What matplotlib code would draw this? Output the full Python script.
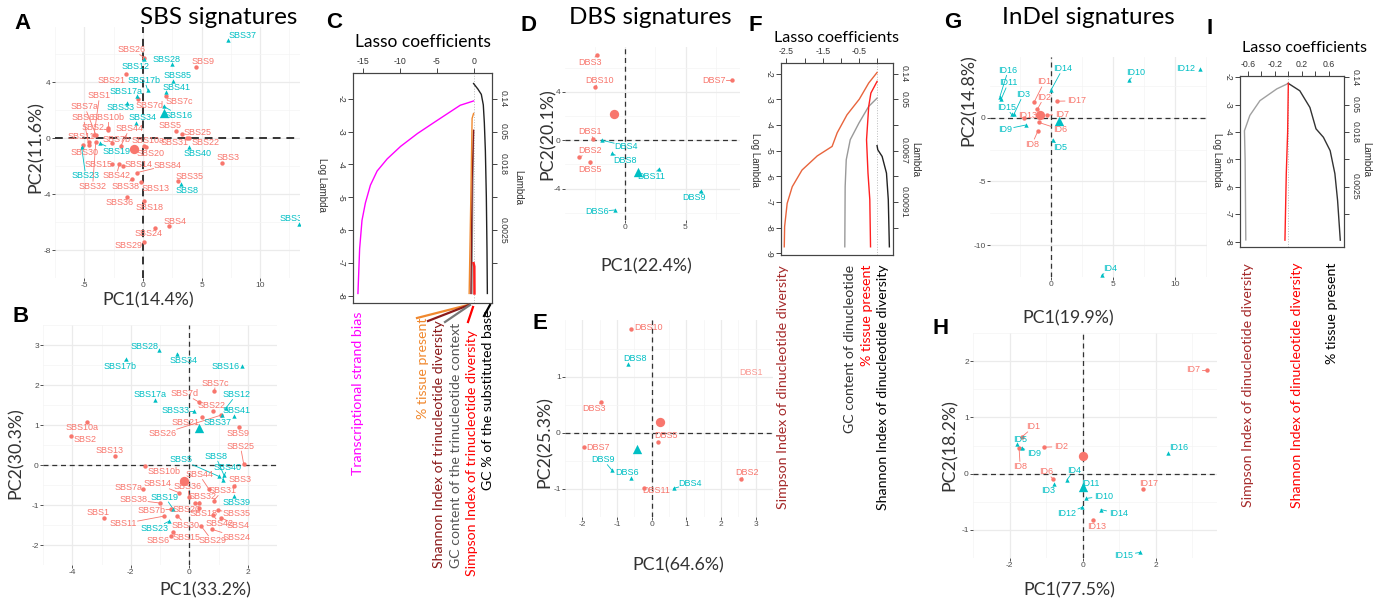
import matplotlib
matplotlib.use('Agg')
import matplotlib.pyplot as plt
from matplotlib.lines import Line2D

plt.rcParams['axes.unicode_minus'] = False

W, H = 1386, 605
RED = '#F8766D'
CYAN = '#00BFC4'

# ---------------- A: SBS signatures, PCA 1 ----------------
a_names_r = ['SBS26', 'SBS9', 'SBS21', 'SBS1', 'SBS7a', 'SBS7c', 'SBS7d', 'SBS6', 'SBS10b', 'SBS2',
             'SBS44', 'SBS5', 'SBS25', 'SBS11', 'SBS7b', 'SBS10a', 'SBS31', 'SBS22', 'SBS30', 'SBS20',
             'SBS3', 'SBS15', 'SBS14', 'SBS84', 'SBS42', 'SBS35', 'SBS32', 'SBS38', 'SBS13', 'SBS36',
             'SBS18', 'SBS4', 'SBS24', 'SBS29']
a_x_r = [0.13, 4.56, -1.42, -4.16, -4.02, 1.93, -0.43, -4.61, -2.95, -2.95,
         -1.88, 2.82, 3.30, -4.56, -2.68, 0.13, 3.75, 3.89, -5.09, 0.27,
         6.76, -2.68, -1.74, -0.54, -2.01, 3.00, -4.02, -0.94, -0.19, -1.39,
         0.08, 2.25, 0.99, 0.08]
a_y_r = [5.76, 5.10, 4.56, 0.26, 0.26, 2.99, 2.77, -0.49, 0.72, 0.58,
         -0.55, 0.51, 0.32, -0.28, -0.38, -0.55, 0.04, 0.00, -0.49, -0.64,
         -1.77, -1.88, -1.98, -2.47, -1.88, -3.09, -0.28, -2.90, -3.16, -4.22,
         -4.48, -6.31, -6.40, -7.42]
a_lx_r = [-0.94, 5.15, -2.68, -3.70, -4.96, 3.08, 0.54, -5.09, -2.95, -4.29,
          -1.15, 2.28, 4.69, -5.23, -2.28, 0.40, 2.68, 5.31, -4.96, 0.67,
          7.29, -3.81, -0.40, 2.14, -2.28, 3.97, -4.29, -1.47, 1.07, -1.96,
          0.59, 2.76, 0.48, -1.21]
a_ly_r = [6.33, 5.48, 4.14, 3.03, 2.24, 2.60, 2.35, 1.49, 1.49, 0.79,
          0.68, 0.90, 0.43, 0.15, -0.06, -0.17, -0.32, -0.32, -1.02, -1.09,
          -1.39, -1.88, -1.88, -1.92, -2.69, -2.73, -3.43, -3.43, -3.58, -4.61,
          -4.93, -5.93, -6.82, -7.70]
a_names_c = ['SBS37', 'SBS12', 'SBS28', 'SBS17b', 'SBS85', 'SBS41', 'SBS17a', 'SBS33', 'SBS16', 'SBS34',
             'SBS19', 'SBS23', 'SBS40', 'SBS8', 'SBS39']
a_x_c = [7.29, 0.13, 2.47, 0.40, 2.55, 1.98, -0.48, -1.39, 1.77, -0.59, -3.62, -5.23, 3.97, 3.22, 13.3]
a_y_c = [7.04, 5.63, 5.27, 3.45, 4.09, 3.28, 3.03, 2.54, 2.28, 1.11, -0.38, -0.66, -0.66, -3.30, -6.15]
a_lx_c = [8.53, -0.59, 2.01, 0.13, 2.95, 2.90, -1.47, -1.90, 3.08, 0.00, -2.28, -4.88, 4.64, 3.75, 12.84]
a_ly_c = [7.33, 5.16, 5.63, 4.14, 4.46, 3.62, 3.35, 2.18, 1.64, 1.49, -0.92, -2.69, -1.09, -3.73, -5.78]
a_cent = [(-0.80, -0.77), (1.77, 1.79)]

# ---------------- B: SBS signatures, PCA 2 ----------------
b_names_r = ['SBS7c', 'SBS7d', 'SBS22', 'SBS21', 'SBS26', 'SBS10a', 'SBS2', 'SBS9', 'SBS13', 'SBS25',
             'SBS10b', 'SBS3', 'SBS44', 'SBS7a', 'SBS14', 'SBS36', 'SBS31', 'SBS32', 'SBS38', 'SBS20',
             'SBS18', 'SBS35', 'SBS1', 'SBS7b', 'SBS11', 'SBS30', 'SBS42', 'SBS4', 'SBS29', 'SBS24',
             'SBS6', 'SBS15']
b_x_r = [0.86, 0.34, 0.80, 0.42, 1.10, -3.49, -4.05, 1.70, -2.53, 1.86,
         -1.50, 1.54, 0.66, -1.58, -0.36, 0.00, 0.84, 0.34, -1.01, 0.20,
         0.34, 0.98, -2.92, -0.63, -0.88, -0.41, 0.80, 1.09, 0.41, 0.78,
         -0.62, -0.56]
b_y_r = [1.84, 1.57, 1.35, 1.21, 1.25, 1.07, 0.72, 0.94, 0.22, 0.03,
         -0.02, -0.53, -0.59, -0.61, -0.69, -0.80, -0.89, -0.95, -0.95, -0.95,
         -1.07, -1.13, -1.32, -1.11, -1.28, -1.27, -1.24, -1.32, -1.53, -1.61,
         -1.78, -1.67]
b_lx_r = [0.90, -0.16, 0.77, -0.11, -0.92, -3.67, -3.55, 1.67, -2.71, 1.75,
          -0.86, 1.75, 0.34, -2.08, -1.10, -0.05, 1.13, 0.45, -1.90, -0.10,
          0.50, 1.61, -3.12, -1.29, -2.26, -0.11, 1.04, 1.67, 0.78, 1.61,
          -1.07, -0.09]
b_ly_r = [2.05, 1.78, 1.50, 1.06, 0.78, 0.94, 0.65, 0.78, 0.36, 0.47,
          -0.16, -0.37, -0.24, -0.56, -0.47, -0.53, -0.64, -0.79, -0.87, -1.10,
          -1.20, -1.22, -1.19, -1.13, -1.47, -1.50, -1.47, -1.52, -1.89, -1.80,
          -1.89, -1.81]
b_names_c = ['SBS28', 'SBS34', 'SBS17b', 'SBS16', 'SBS12', 'SBS17a', 'SBS33', 'SBS41', 'SBS37', 'SBS8',
             'SBS5', 'SBS40', 'SBS39', 'SBS19', 'SBS23']
b_x_c = [-1.02, -0.41, -2.15, 1.81, 1.25, -1.16, 0.17, 1.54, 1.13, 1.19, 1.00, 1.14, 1.54, -0.54, -0.70]
b_y_c = [2.87, 2.78, 2.64, 2.48, 1.42, 1.63, 1.36, 1.22, 1.24, -0.26, -0.28, -0.37, -0.78, -1.11, -1.41]
b_lx_c = [-1.52, -0.21, -2.35, 1.25, 1.61, -1.34, -0.47, 1.61, 0.97, 0.90, -0.27, 1.31, 1.61, -0.83, -1.19]
b_ly_c = [2.96, 2.62, 2.47, 2.47, 1.76, 1.76, 1.36, 1.36, 1.07, 0.22, 0.13, -0.06, -0.93, -0.80, -1.59]
b_cent = [(-0.18, -0.41), (0.34, 0.93)]

# ---------------- D: DBS signatures, PCA 1 ----------------
d_names_r = ['DBS3', 'DBS10', 'DBS7', 'DBS1', 'DBS2', 'DBS5']
d_x_r = [-2.28, -2.45, 8.85, -2.61, -3.76, -2.88]
d_y_r = [7.06, 4.40, 4.95, 0.08, -1.43, -1.84]
d_lx_r = [-2.88, -2.06, 7.34, -2.88, -2.88, -2.88]
d_ly_r = [6.46, 4.95, 4.95, 0.69, -0.88, -2.42]
d_names_c = ['DBS4', 'DBS8', 'DBS11', 'DBS9', 'DBS6']
d_x_c = [-1.92, -1.07, 2.83, 6.32, -0.80]
d_y_c = [0.00, -1.10, -2.36, -4.18, -5.77]
d_lx_c = [0.08, 0.00, 2.20, 5.69, -2.28]
d_ly_c = [-0.49, -1.65, -2.97, -4.73, -5.91]
d_cent = [(-0.91, 2.20), (1.04, -2.61)]

# ---------------- E: DBS signatures, PCA 2 ----------------
e_names_r = ['DBS10', 'DBS1', 'DBS3', 'DBS5', 'DBS7', 'DBS2', 'DBS11']
e_x_r = [-0.60, 3.60, -1.45, 0.19, -1.96, 2.57, -0.22]
e_y_r = [1.85, 1.08, 0.545, -0.16, -0.25, -0.83, -0.98]
e_lx_r = [-0.09, 2.86, -1.66, 0.40, -1.55, 2.75, 0.12]
e_ly_r = [1.88, 1.07, 0.43, -0.05, -0.26, -0.71, -1.02]
e_names_c = ['DBS8', 'DBS9', 'DBS6', 'DBS4']
e_x_c = [-0.67, -1.14, -0.60, 0.63]
e_y_c = [1.22, -0.67, -0.80, -0.99]
e_lx_c = [-0.47, -1.40, -0.72, 1.12]
e_ly_c = [1.32, -0.48, -0.70, -0.91]
e_cent = [(0.24, 0.19), (-0.43, -0.29)]

# ---------------- G: InDel signatures, PCA 1 ----------------
g_names_r = ['ID1', 'ID2', 'ID17', 'ID13', 'ID7', 'ID6', 'ID8']
g_x_r = [-1.34, -1.10, 0.46, -2.15, -0.35, -0.99, -1.05]
g_y_r = [1.25, 0.65, 1.30, -0.05, 0.21, -0.36, -1.04]
g_lx_r = [-0.54, -0.56, 2.07, -1.91, 0.86, 0.73, -1.51]
g_ly_r = [2.81, 1.59, 1.33, 0.21, 0.26, -0.91, -2.06]
g_names_c = ['ID16', 'ID11', 'ID14', 'ID10', 'ID12', 'ID3', 'ID15', 'ID9', 'ID5', 'ID4']
g_x_c = [-4.11, -3.98, 0.00, 6.29, 11.96, -2.98, -3.17, -2.02, 0.13, 4.09]
g_y_c = [1.64, 1.51, 2.16, 2.94, 3.85, 0.26, 0.26, -0.57, -1.74, -12.37]
g_lx_c = [-3.44, -3.44, 0.94, 6.85, 10.81, -2.23, -3.58, -3.71, 0.73, 4.76]
g_ly_c = [3.72, 2.73, 3.85, 3.52, 3.85, 1.82, 0.81, -0.91, -2.34, -11.85]
g_cent = [(-0.89, 0.21), (0.67, -0.26)]

# ---------------- H: InDel signatures, PCA 2 ----------------
h_names_r = ['ID7', 'ID1', 'ID8', 'ID2', 'ID6', 'ID17', 'ID13']
h_x_r = [3.39, -1.65, -1.74, -1.06, -0.82, 1.65, 0.29]
h_y_r = [1.85, 0.66, 0.45, 0.47, -0.09, -0.28, -0.82]
h_lx_r = [3.01, -1.35, -1.71, -0.60, -1.00, 1.81, 0.38]
h_ly_r = [1.85, 0.83, 0.13, 0.48, 0.03, -0.18, -0.94]
h_names_c = ['ID5', 'ID9', 'ID16', 'ID4', 'ID3', 'ID11', 'ID10', 'ID12', 'ID14', 'ID15']
h_x_c = [-1.81, -1.67, 2.33, -0.43, -0.78, 0.00, 0.10, -0.02, 0.50, 1.57]
h_y_c = [0.53, 0.46, 0.36, -0.11, -0.19, -0.21, -0.44, -0.60, -0.64, -1.40]
h_lx_c = [-1.70, -1.34, 2.61, -0.24, -0.96, 0.22, 0.57, -0.45, 0.97, 1.12]
h_ly_c = [0.60, 0.35, 0.46, 0.06, -0.30, -0.18, -0.40, -0.71, -0.71, -1.45]
h_cent = [(0.00, 0.32), (0.00, -0.24)]

# ---------------- C: lasso paths, SBS ----------------
c_tsb_coef = [0, -1.81, -3.51, -5.34, -7.62, -9.90, -11.72, -13.09, -14.0, -14.68, -15.14, -15.46, -15.69]
c_tsb_lam = [-2.07, -2.20, -2.45, -2.72, -3.06, -3.45, -3.83, -4.20, -4.63, -5.17, -5.70, -6.56, -7.92]
c_gcsub_coef = [0, 0.59, 1.05, 1.32, 1.46, 1.60, 1.73, 1.82, 1.87]
c_gcsub_lam = [-1.54, -1.71, -1.87, -2.19, -2.73, -3.58, -4.97, -6.58, -7.92]
c_tissue_coef = [0, -0.20, -0.30, -0.45, -0.60]
c_tissue_lam = [-2.45, -2.60, -4.00, -6.00, -7.92]
c_shannon_coef = [0, -0.20, -0.36]
c_shannon_lam = [-2.96, -4.50, -7.92]
c_gctri_coef = [0, -0.12, -0.23]
c_gctri_lam = [-3.00, -5.00, -7.92]
c_simpson_coef = [0, 0.10, 0.12]
c_simpson_lam = [-7.00, -7.10, -7.92]
c_labels = ['Transcriptional strand bias', '% tissue present', 'Shannon Index of trinucleotide diversity',
            'GC content of the trinucleotide context', 'Simpson Index of trinucleotide diversity',
            'GC % of the substituted base']
c_label_colors = ['#FF00FF', '#F0882E', '#8B1A1A', '#555555', '#FF0000', '#000000']

# ---------------- F: lasso paths, DBS ----------------
f_simpson_coef = [0, -0.23, -0.49, -0.83, -1.10, -1.24, -1.65, -2.07, -2.34, -2.48, -2.55, -2.56]
f_simpson_lam = [-1.95, -2.36, -2.99, -3.60, -4.30, -4.83, -5.20, -5.75, -6.40, -7.05, -7.95, -8.74]
f_gc_coef = [0, -0.23, -0.50, -0.74, -0.85, -0.88, -0.89]
f_gc_lam = [-2.95, -3.27, -3.92, -4.57, -5.35, -6.40, -8.74]
f_tissue_coef = [0, -0.17, -0.23, -0.29, -0.25, -0.20, -0.18]
f_tissue_lam = [-2.30, -2.75, -3.27, -4.57, -5.87, -6.90, -8.74]
f_shannon_coef = [0, 0.02, 0.14, 0.26, 0.31, 0.34]
f_shannon_lam = [-4.80, -4.96, -5.22, -5.87, -6.90, -8.74]
f_labels = ['Simpson Index of dinucleotide diversity', 'GC content of dinucleotide', '% tissue present',
            'Shannon Index of dinucleotide diversity']
f_label_colors = ['#A52A2A', '#333333', '#FF0000', '#000000']

# ---------------- I: lasso paths, InDel ----------------
i_simpson_coef = [0, -0.17, -0.42, -0.57, -0.65, -0.64, -0.63]
i_simpson_lam = [-2.22, -2.42, -2.85, -3.39, -3.95, -5.00, -7.94]
i_tissue_coef = [0, 0.17, 0.32, 0.41, 0.52, 0.62, 0.69, 0.73, 0.77]
i_tissue_lam = [-2.22, -2.49, -3.10, -3.88, -4.19, -4.68, -5.52, -6.50, -7.95]
i_shannon_coef = [0, -0.01, -0.03, -0.05]
i_shannon_lam = [-2.22, -4.00, -5.50, -7.95]
i_labels = ['Simpson Index of dinucleotide diversity', 'Shannon Index of dinucleotide diversity',
            '% tissue present']
i_label_colors = ['#A52A2A', '#FF0000', '#000000']


fig = plt.figure(figsize=(W / 100, H / 100), dpi=100)
fig.patch.set_facecolor('white')

SANS = ['Lato', 'DejaVu Sans']
LAB = ['Liberation Sans', 'DejaVu Sans']


def box(l, t, r, b):
    return [l / W, 1 - b / H, (r - l) / W, (b - t) / H]


def ftext(x, y, s, **kw):
    return fig.text(x / W, 1 - y / H, s, **kw)


def fline(x1, y1, x2, y2, color, lw=1.0):
    fig.add_artist(Line2D([x1 / W, x2 / W], [1 - y1 / H, 1 - y2 / H],
                          transform=fig.transFigure, color=color, lw=lw))


def repel_labels(ax, names, xs, ys, lxs, lys, color):
    x0l, x1l = ax.get_xlim()
    y0l, y1l = ax.get_ylim()
    for n, x, y, lx, ly in zip(names, xs, ys, lxs, lys):
        inside = x0l <= x <= x1l and y0l <= y <= y1l
        ax.text(lx, ly, n, color=color, fontsize=6.5, ha='center', va='center',
                family=LAB, zorder=4, clip_on=True, alpha=1.0 if inside else 0.75)
        if not inside:
            continue
        px, py = ax.transData.transform((x, y))
        cx, cy = ax.transData.transform((lx, ly))
        dx, dy = px - cx, py - cy
        hw, hh = len(n) * 2.7 + 1, 5.0
        t = min(hw / abs(dx) if dx else 1e9, hh / abs(dy) if dy else 1e9)
        if t < 0.8:
            ex, ey = cx + dx * t, cy + dy * t
            inv = ax.transData.inverted()
            (xa, ya), (xb, yb) = inv.transform([(ex, ey), (px, py)])
            ax.plot([xa, xb], [ya, yb], color=color, lw=0.6, zorder=2)


def pca_panel(rect, xlim, ylim, xmaj, ymaj, red, cyan, cents, lw0=0.9):
    ax = fig.add_axes(box(*rect))
    ax.set_xlim(xlim)
    ax.set_ylim(ylim)
    ax.set_xticks(xmaj)
    ax.set_yticks(ymaj)
    sx, sy = xmaj[1] - xmaj[0], ymaj[1] - ymaj[0]
    ax.set_xticks([v + sx / 2 for v in [xmaj[0] - sx] + list(xmaj)], minor=True)
    ax.set_yticks([v + sy / 2 for v in [ymaj[0] - sy] + list(ymaj)], minor=True)
    ax.grid(which='major', color='#EBEBEB', lw=0.9)
    ax.grid(which='minor', color='#F4F4F4', lw=0.5)
    ax.set_axisbelow(True)
    for s in ax.spines.values():
        s.set_visible(False)
    ax.tick_params(which='major', labelsize=6, labelcolor='#4D4D4D', color='#333333',
                   length=2, width=0.6, pad=1)
    ax.tick_params(which='minor', length=0)
    for lab in ax.get_xticklabels() + ax.get_yticklabels():
        lab.set_family(LAB)
    ax.axhline(0, color='#333333', ls=(0, (4, 3)), lw=lw0, zorder=1)
    ax.axvline(0, color='#333333', ls=(0, (4, 3)), lw=lw0, zorder=1)
    for grp, col, mk in [(red, RED, 'o'), (cyan, CYAN, '^')]:
        names, xs, ys, lxs, lys = grp
        ax.scatter(xs, ys, s=10, c=col, marker=mk, lw=0, zorder=3)
        repel_labels(ax, names, xs, ys, lxs, lys, col)
    ax.scatter([cents[0][0]], [cents[0][1]], s=45, c=RED, marker='o', lw=0, zorder=3)
    ax.scatter([cents[1][0]], [cents[1][1]], s=45, c=CYAN, marker='^', lw=0, zorder=3)
    return ax


def lasso_panel(rect, xlim, ylim, xt, xtl, yt, lamt, laml, curves):
    ax = fig.add_axes(box(*rect))
    ax.axvline(0, color='#BBBBBB', ls=':', lw=0.7)
    for coef, lam, col, lw in curves:
        ax.plot(coef, lam, color=col, lw=lw)
    ax.set_xlim(xlim)
    ax.set_ylim(ylim)
    ax.xaxis.tick_top()
    ax.set_xticks(xt)
    ax.set_xticklabels(xtl)
    ax.set_yticks(yt)
    ax.set_yticklabels([str(v) for v in yt], rotation=-90, va='center')
    ax2 = ax.twinx()
    ax2.set_ylim(ylim)
    ax2.set_yticks(lamt)
    ax2.set_yticklabels(laml, rotation=-90, va='center')
    for a in (ax, ax2):
        for s in a.spines.values():
            s.set_color('#444444')
            s.set_linewidth(0.8)
        a.tick_params(labelsize=6.3, labelcolor='#333333', color='#444444', length=3.5,
                      width=0.7, pad=1.5)
        for lab in a.get_xticklabels() + a.get_yticklabels():
            lab.set_family(LAB)
    return ax


# ---- PCA panels ----
pca_panel((55, 27, 300, 278), (-6.3, 13.4), (-8.14, 7.95), [-5, 0, 5, 10], [-8, -4, 0, 4],
          (a_names_r, a_x_r, a_y_r, a_lx_r, a_ly_r), (a_names_c, a_x_c, a_y_c, a_lx_c, a_ly_c),
          a_cent, lw0=1.4)
pca_panel((43, 325, 277, 565), (-4.16, 2.17), (-2.1, 3.2), [-4, -2, 0, 2], [-2, -1, 0, 1, 2, 3],
          (b_names_r, b_x_r, b_y_r, b_lx_r, b_ly_r), (b_names_c, b_x_c, b_y_c, b_lx_c, b_ly_c), b_cent)
pca_panel((565, 47, 740, 220), (-4.95, 9.5), (-6.6, 7.7), [0, 5], [-4, 0, 4],
          (d_names_r, d_x_r, d_y_r, d_lx_r, d_ly_r), (d_names_c, d_x_c, d_y_c, d_lx_c, d_ly_c), d_cent)
pca_panel((565, 320, 773, 517), (-2.19, 3.11), (-1.11, 2.01), [-2, -1, 0, 1, 2, 3], [-1, 0, 1],
          (e_names_r, e_x_r, e_y_r, e_lx_r, e_ly_r), (e_names_c, e_x_c, e_y_c, e_lx_c, e_ly_c), e_cent)
pca_panel((990, 57, 1207, 277), (-4.9, 12.55), (-12.4, 4.77), [0, 5, 10], [-10, -5, 0],
          (g_names_r, g_x_r, g_y_r, g_lx_r, g_ly_r), (g_names_c, g_x_c, g_y_c, g_lx_c, g_ly_c), g_cent)
pca_panel((973, 333, 1217, 558), (-2.15, 3.67), (-1.49, 2.1), [-2, 0, 2], [-1, 0, 1, 2],
          (h_names_r, h_x_r, h_y_r, h_lx_r, h_ly_r), (h_names_c, h_x_c, h_y_c, h_lx_c, h_ly_c), h_cent)

# ---- lasso panels ----
lasso_panel((353, 73, 492, 303), (-16.36, 2.5), (-8.21, -1.22), [-15, -10, -5, 0],
            ['-15', '-10', '-5', '0'], [-2, -3, -4, -5, -6, -7, -8],
            [-2, -3, -4, -5, -6, -7], ['0.14', '0.05', '0.018', '', '0.0025', ''],
            [(c_gctri_coef, c_gctri_lam, '#888888', 1.0),
             (c_shannon_coef, c_shannon_lam, '#8B1A1A', 1.0),
             (c_tissue_coef, c_tissue_lam, '#F0882E', 1.0),
             (c_simpson_coef, c_simpson_lam, '#FF2020', 1.8),
             (c_tsb_coef, c_tsb_lam, '#FF00FF', 1.0),
             (c_gcsub_coef, c_gcsub_lam, '#222222', 1.0)])
lasso_panel((781, 63, 893, 255), (-2.65, 0.44), (-9.06, -1.58), [-2.5, -2, -1.5, -1, -0.5, 0],
            ['-2.5', '', '-1.5', '', '-0.5', ''], [-2, -3, -4, -5, -6, -7, -8, -9],
            [-2, -3, -4, -5, -6, -7, -8], ['0.14', '0.05', '', '0.0067', '', '0.00091', ''],
            [(f_gc_coef, f_gc_lam, '#999999', 1.0),
             (f_tissue_coef, f_tissue_lam, '#FF2020', 1.0),
             (f_shannon_coef, f_shannon_lam, '#222222', 1.0),
             (f_simpson_coef, f_simpson_lam, '#E8643C', 1.0)])
lasso_panel((1240, 76, 1344, 247), (-0.716, 0.825), (-8.2, -1.95),
            [-0.6, -0.4, -0.2, 0, 0.2, 0.4, 0.6], ['-0.6', '', '-0.2', '', '0.2', '', '0.6'],
            [-2, -3, -4, -5, -6, -7, -8],
            [-2, -3, -4, -5, -6, -7], ['0.14', '0.05', '0.018', '', '0.0025', ''],
            [(i_simpson_coef, i_simpson_lam, '#A0A0A0', 1.0),
             (i_tissue_coef, i_tissue_lam, '#333333', 1.0),
             (i_shannon_coef, i_shannon_lam, '#FF2020', 1.0)])

# ---- labels under lasso panels ----
for s, col, x, top in zip(c_labels, c_label_colors, [358, 423, 439, 456, 472, 488],
                          [312, 318, 320, 323, 330, 310]):
    ftext(x, top, s, color=col, rotation=90, ha='center', va='top', fontsize=10.2, family=SANS)
fline(417, 318, 468, 305, '#F0882E', 1.6)
fline(428, 321, 469, 305, '#8B1A1A', 1.6)
fline(445, 322, 470, 305, '#777777', 1.6)
fline(468, 322, 473, 307, '#FF0000', 1.6)
fline(484, 316, 490, 305, '#000000', 1.6)

for s, col, x in zip(f_labels, f_label_colors, [783, 850, 867, 883]):
    ftext(x, 265, s, color=col, rotation=90, ha='center', va='top', fontsize=10.2, family=SANS)
for s, col, x in zip(i_labels, i_label_colors, [1248, 1297, 1332]):
    ftext(x, 263, s, color=col, rotation=90, ha='center', va='top', fontsize=10.2, family=SANS)

# lasso titles and axis names
for x, y, fs in [(423, 42, 12.5), (837, 38, 11.5), (1305, 48, 11.5)]:
    ftext(x, y, 'Lasso coefficients', ha='center', va='center', fontsize=fs, family=SANS)
for x, y in [(322, 185), (755, 160), (1217, 160)]:
    ftext(x, y, 'Log Lambda', rotation=-90, ha='center', va='center', fontsize=7, family=LAB,
          color='#333333')
for x, y in [(518, 188), (915, 160), (1366, 160)]:
    ftext(x, y, 'Lambda', rotation=-90, ha='center', va='center', fontsize=7, family=LAB,
          color='#333333')

# ---- PCA axis names ----
for s, x, y in [('PC1(14.4%)', 148, 300), ('PC1(33.2%)', 205, 590), ('PC1(22.4%)', 646, 266),
                ('PC1(64.6%)', 678, 565), ('PC1(19.9%)', 1068, 318), ('PC1(77.5%)', 1069, 590)]:
    ftext(x, y, s, ha='center', va='center', fontsize=12.8, family=SANS, color='#333333')
for s, x, y in [('PC2(11.6%)', 36, 147), ('PC2(30.3%)', 16, 453), ('PC2(20.1%)', 548, 134),
                ('PC2(25.3%)', 545, 442), ('PC2(14.8%)', 969, 100), ('PC2(18.2%)', 950, 445)]:
    ftext(x, y, s, rotation=90, ha='center', va='center', fontsize=12.8, family=SANS, color='#333333')

# ---- titles and panel letters ----
for s, x in [('SBS signatures', 219), ('DBS signatures', 650), ('InDel signatures', 1088)]:
    ftext(x, 18, s, ha='center', va='center', fontsize=17.5, family=SANS)
for s, x, y in [('A', 14, 13), ('B', 12, 306), ('C', 326, 12), ('D', 521, 15), ('E', 532, 313),
                ('F', 749, 15), ('G', 944, 12), ('H', 933, 318), ('I', 1206, 18)]:
    ftext(x, y, s, ha='left', va='top', fontsize=16, fontweight='bold', family=LAB)

fig.savefig('out.png', dpi=100)
